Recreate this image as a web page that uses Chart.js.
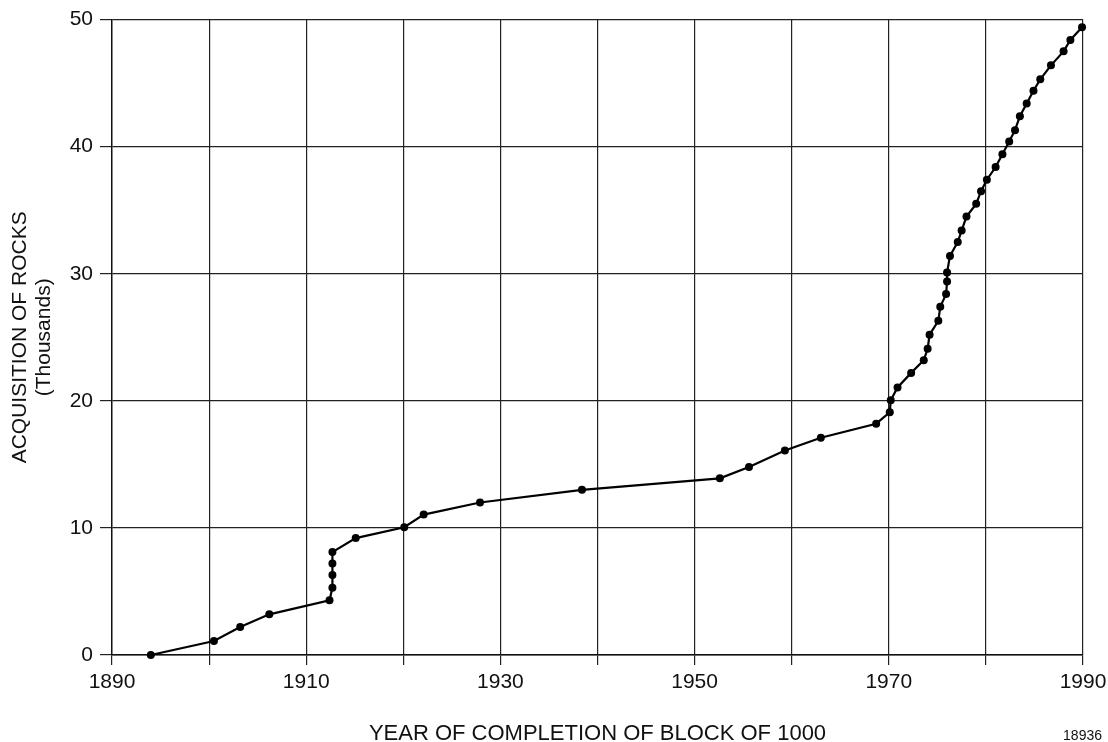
<!DOCTYPE html>
<html>
<head>
<meta charset="utf-8">
<title>Acquisition of rocks</title>
<script src="https://cdn.jsdelivr.net/npm/chart.js@4.4.1/dist/chart.umd.min.js"></script>
<style>
  html, body { margin: 0; padding: 0; background: #fff; }
  #grafica { display: block; }
</style>
</head>
<body>
<canvas id="grafica" width="1108" height="742"></canvas>
<script>
// year each block of 1000 rocks was completed
const anios = [
  1894.0, 1900.5, 1903.2, 1906.2, 1912.4, 1912.7, 1912.7, 1912.7, 1912.7, 1915.1,
  1920.1, 1922.1, 1927.9, 1938.4, 1952.6, 1955.6, 1959.3, 1963.0, 1968.7, 1970.1,
  1970.2, 1970.9, 1972.3, 1973.6, 1974.0, 1974.2, 1975.1, 1975.3, 1975.9, 1976.0,
  1976.0, 1976.3, 1977.1, 1977.5, 1978.0, 1979.0, 1979.5, 1980.1, 1981.0, 1981.7,
  1982.4, 1983.0, 1983.5, 1984.2, 1984.9, 1985.6, 1986.7, 1988.0, 1988.7, 1989.9
];
// cumulative acquisitions (thousands)
const miles = [
  0.0, 1.1, 2.2, 3.2, 4.3, 5.3, 6.3, 7.2, 8.1, 9.2,
  10.05, 11.05, 12.0, 13.0, 13.9, 14.8, 16.1, 17.1, 18.2, 19.1,
  20.05, 21.05, 22.2, 23.2, 24.1, 25.2, 26.3, 27.4, 28.4, 29.4,
  30.1, 31.4, 32.5, 33.4, 34.5, 35.5, 36.5, 37.4, 38.4, 39.4,
  40.4, 41.3, 42.4, 43.4, 44.4, 45.3, 46.4, 47.5, 48.4, 49.4
];
const etiquetasX = [1890, 1910, 1930, 1950, 1970, 1990];
const tituloX = 'YEAR OF COMPLETION OF BLOCK OF 1000';
const tituloY = ['ACQUISITION OF ROCKS', '(Thousands)'];
const numeroFigura = '18936';

const fuente = "'Liberation Sans', Arial, Helvetica, sans-serif";
const puntos = anios.map((a, i) => ({x: a, y: miles[i]}));

// small figure number in the bottom right corner
const pluginNumero = {
  id: 'numeroFigura',
  afterDraw(chart) {
    const ctx = chart.ctx;
    ctx.save();
    ctx.font = '14px ' + fuente;
    ctx.fillStyle = '#111';
    ctx.textAlign = 'right';
    ctx.textBaseline = 'alphabetic';
    ctx.fillText(numeroFigura, 1102, 740);
    ctx.restore();
  }
};

new Chart(document.getElementById('grafica'), {
  type: 'scatter',
  data: {
    datasets: [{
      data: puntos,
      showLine: true,
      clip: false,
      borderColor: '#000',
      borderWidth: 2.2,
      pointRadius: 4,
      pointBackgroundColor: '#000',
      pointBorderColor: '#000',
      pointBorderWidth: 0,
      tension: 0
    }]
  },
  options: {
    responsive: false,
    animation: false,
    layout: { padding: { top: 17, right: 25, left: 0, bottom: 0 } },
    plugins: {
      legend: { display: false },
      tooltip: { enabled: false }
    },
    scales: {
      x: {
        type: 'linear',
        min: 1890,
        max: 1990,
        afterFit: (scale) => {
          scale.height = 87;
          scale.paddingLeft = 0;
          scale.paddingRight = 0;
        },
        grid: { color: '#222', lineWidth: 1.2, tickLength: 10, tickColor: '#222' },
        border: { color: '#111', width: 1.4 },
        ticks: {
          stepSize: 10,
          autoSkip: false,
          maxRotation: 0,
          padding: 5,
          color: '#111',
          font: { family: fuente, size: 21 },
          callback: (v) => etiquetasX.includes(v) ? String(v) : ''
        },
        title: {
          display: true,
          text: tituloX,
          color: '#111',
          padding: { top: 0, bottom: 0 },
          font: { family: fuente, size: 22, lineHeight: 0.75 }
        }
      },
      y: {
        min: 0,
        max: 50,
        afterFit: (scale) => { scale.width = 112; },
        grid: { color: '#222', lineWidth: 1.2, tickLength: 12, tickColor: '#222' },
        border: { color: '#111', width: 1.4 },
        ticks: {
          stepSize: 10,
          padding: 7,
          color: '#111',
          font: { family: fuente, size: 21 }
        },
        title: {
          display: true,
          text: tituloY,
          color: '#111',
          padding: { top: 8, bottom: 0 },
          font: { family: fuente, size: 21, lineHeight: 1.15 }
        }
      }
    }
  },
  plugins: [pluginNumero]
});
</script>
</body>
</html>
